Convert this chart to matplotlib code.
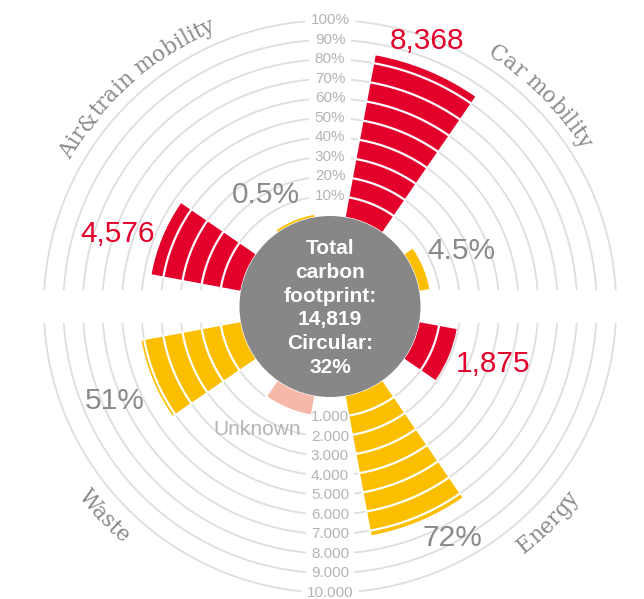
import numpy as np
import matplotlib
matplotlib.use("Agg")
import matplotlib.pyplot as plt
from matplotlib.patches import Circle, Rectangle
from matplotlib.textpath import TextToPath
from matplotlib.font_manager import FontProperties

# ---- data ----
footprint_cats = ["Car mobility", "Air&train mobility", "Energy"]
footprint_vals = [8368, 4576, 1875]          # carbon footprint
circular_cats = ["Car mobility", "Air&train mobility", "Energy", "Waste"]
circular_pct = [4.5, 0.5, 72, 51]            # share circular, %
unknown_val = 1000
total_footprint = 14819
total_circular = 32
pct_ticks = [10, 20, 30, 40, 50, 60, 70, 80, 90, 100]
kilo_ticks = [1000, 2000, 3000, 4000, 5000, 6000, 7000, 8000, 9000, 10000]
category_names = ["Car mobility", "Air&train mobility", "Waste", "Energy"]

# ---- styling / layout ----
RED = "#e3002b"
YELLOW = "#fbbf00"
PINK = "#f6b8a8"
CIRCLE_GRAY = "#878787"
GRID = "#dedede"
TICK_GRAY = "#b4b4b4"
LABEL_GRAY = "#8a8a8a"
SANS = ["Liberation Sans", "DejaVu Sans"]

W, H = 644, 599
CX, CY = 330, 306.5      # centre in pixels (from top-left)
R0 = 91.2                # radius of value 0
STEP = 19.5              # pixels per ring (1000 or 10%)
HALF = 292
BAR_W = np.deg2rad(24)

footprint_ang = {"Car mobility": 67.5, "Air&train mobility": 157.5, "Energy": -22.5}
circular_ang = {"Car mobility": 22.5, "Air&train mobility": 112.5, "Energy": -67.5, "Waste": -157.5}
unknown_ang = -112.5

fig = plt.figure(figsize=(W / 100, H / 100), dpi=100)
ax = fig.add_axes([(CX - HALF) / W, (H - CY - HALF) / H, 2 * HALF / W, 2 * HALF / H],
                  projection="polar")
ax.set_rorigin(-R0 / STEP)
ax.set_ylim(0, HALF / STEP - R0 / STEP)
ax.axis("off")

# grid rings
th = np.linspace(0, 2 * np.pi, 720)
for k in range(1, 11):
    ax.plot(th, np.full_like(th, k), color=GRID, lw=1.3, zorder=1)
# white horizontal band through the middle
ax.add_patch(Rectangle((0, 0.5 - 16.5 / (2 * HALF)), 1, 33 / (2 * HALF),
                       transform=ax.transAxes, fc="white", ec="none", zorder=1.5))


def draw_bar(ang_deg, units, color):
    a = np.deg2rad(ang_deg)
    ax.bar(a, units, width=BAR_W, bottom=0, color=color, edgecolor=color,
           linewidth=1.2, zorder=3)
    for k in range(1, int(np.floor(units)) + 1):
        m = 1.5 / (R0 + k * STEP)
        t = np.linspace(a - BAR_W / 2 - m, a + BAR_W / 2 + m, 40)
        ax.plot(t, np.full_like(t, k), color="white", lw=1.6, zorder=4)


for cat, v in zip(footprint_cats, footprint_vals):
    draw_bar(footprint_ang[cat], v / 1000, RED)
for cat, p in zip(circular_cats, circular_pct):
    draw_bar(circular_ang[cat], p / 10, YELLOW)
draw_bar(unknown_ang, unknown_val / 1000, PINK)

# radial tick labels
for k, p in enumerate(pct_ticks, start=1):
    ax.text(np.pi / 2, k, f"{p}%", ha="center", va="center", fontsize=11,
            color=TICK_GRAY, family=SANS, zorder=2,
            bbox=dict(boxstyle="square,pad=0.35", fc="white", ec="none"))
for k, v in enumerate(kilo_ticks, start=1):
    ax.text(-np.pi / 2, k, f"{v:,}".replace(",", "."), ha="center", va="center",
            fontsize=11, color=TICK_GRAY, family=SANS, zorder=2,
            bbox=dict(boxstyle="square,pad=0.35", fc="white", ec="none"))

# centre disc
ax.add_patch(Circle((0.5, 0.5), 90.5 / (2 * HALF), transform=ax.transAxes,
                    fc=CIRCLE_GRAY, ec="none", zorder=5, clip_on=False))
ax.text(0.5, 0.5 - 1.5 / (2 * HALF),
        f"Total\ncarbon\nfootprint:\n{total_footprint:,}\nCircular:\n{total_circular}%",
        transform=ax.transAxes, ha="center", va="center", multialignment="center",
        color="white", fontweight="bold", fontsize=15, linespacing=1.33,
        family=SANS, zorder=6, clip_on=False)

# value labels (angle, ring units)
fp_label_pos = {"Car mobility": (70.0, 9.82), "Air&train mobility": (161.1, 6.81),
                "Energy": (-19.4, 4.19)}
cp_label_pos = {"Car mobility": (23.0, 2.62), "Air&train mobility": (119.9, 1.92),
                "Energy": (-62.2, 8.74), "Waste": (-156.3, 7.37)}
for cat, v in zip(footprint_cats, footprint_vals):
    a, u = fp_label_pos[cat]
    ax.text(np.deg2rad(a), u, f"{v:,}", ha="center", va="center", fontsize=21.5,
            color=RED, family=SANS, zorder=6, clip_on=False)
for cat, p in zip(circular_cats, circular_pct):
    a, u = cp_label_pos[cat]
    ax.text(np.deg2rad(a), u, f"{p:g}%", ha="center", va="center", fontsize=21.5,
            color=LABEL_GRAY, family=SANS, zorder=6, clip_on=False)
ax.text(np.deg2rad(-120.8), 2.64, "Unknown", ha="center", va="center", fontsize=15,
        color=TICK_GRAY, family=SANS, zorder=6, clip_on=False)

# curved category labels
cat_pos = {"Car mobility": (45.0, 303, True), "Air&train mobility": (131.5, 305, True),
           "Waste": (222.8, 309, False), "Energy": (-44.7, 308, False)}
cat_fp = FontProperties(family="DejaVu Serif", size=15.5)
ttp = TextToPath()


def text_w(s):
    w, _, _ = ttp.get_text_width_height_descent(s, cat_fp, ismath=False)
    return w * 100 / 72


size_px = 15.5 * 100 / 72
for name in category_names:
    ang, r_mid, upper = cat_pos[name]
    r_base = r_mid - 0.3 * size_px if upper else r_mid + 0.3 * size_px
    total = text_w(name)
    for i, ch in enumerate(name):
        if ch == " ":
            continue
        c = text_w(name[:i + 1]) - text_w(ch) / 2
        d = np.rad2deg((c - total / 2) / r_base)
        if upper:
            phi = ang - d
            rot = phi - 90
        else:
            phi = ang + d
            rot = phi + 90
        ax.text(np.deg2rad(phi), (r_base - R0) / STEP, ch, rotation=rot,
                rotation_mode="anchor", ha="center", va="baseline",
                fontproperties=cat_fp, color=LABEL_GRAY, zorder=6, clip_on=False)

fig.savefig("out.png", dpi=100)
